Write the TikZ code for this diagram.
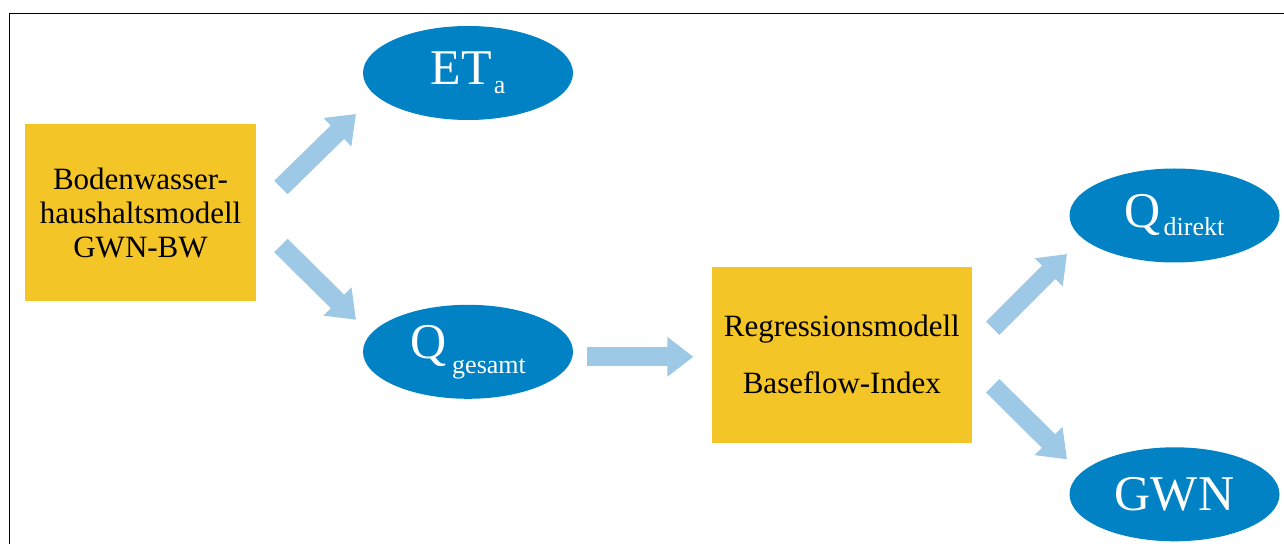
\documentclass[tikz,border=0pt]{standalone}
\usepackage{fontspec}
\setmainfont{Liberation Serif}
\usetikzlibrary{arrows.meta, positioning, shapes.geometric}

\definecolor{boxyellow}{RGB}{244,197,38}
\definecolor{ellblue}{RGB}{0,130,196}
\definecolor{flowblue}{RGB}{158,201,230}

\newcommand{\lowsub}[2]{\raisebox{-#1}{\fontsize{13}{15}\selectfont #2}}

\begin{document}
\begin{tikzpicture}[
  x=0.5pt, y=-0.5pt,
  model/.style={fill=boxyellow, align=center, inner sep=0pt, font=\fontsize{15.5}{17}\selectfont},
  result/.style={ellipse, fill=ellblue, text=white, inner sep=0pt, minimum width=105pt, minimum height=47pt, font=\fontsize{25}{28}\selectfont},
  flow/.style={draw=flowblue, line width=9.5pt, -{Triangle[width=19pt, length=13pt]}}
]
\useasboundingbox (0,0) rectangle (1284,544);
\draw[line width=0.6pt] (9.5,544) -- (9.5,13.5) -- (1284,13.5);

\node[model, minimum width=115.5pt, minimum height=88.5pt] (bwhm) at (140.5,212.5) {Bodenwasser-\\haushaltsmodell\\GWN-BW};
\node[result] (eta) at (468,73) {ET\hspace{1pt}\lowsub{4.5pt}{a}};
\node[result, below=92pt of eta] (qges) {Q\hspace{3pt}\lowsub{7.5pt}{gesamt}};
\node[model, minimum width=130pt, minimum height=88pt, font=\fontsize{15.5}{28.5}\selectfont, right=69pt of qges, yshift=-1.5pt] (bfi) {Regressionsmodell\\Baseflow-Index};
\node[result] (qdir) at (1174.5,215.5) {Q\hspace{1.5pt}\lowsub{4pt}{direkt}};
\node[result, below=92pt of qdir] (gwn) {GWN};

\draw[flow] ([shift={(24.5,-25)}]bwhm.east) -- ([shift={(-112,41)}]eta.center);
\draw[flow] ([shift={(24.5,33)}]bwhm.east) -- ([shift={(-112,-32)}]qges.center);
\draw[flow] ([shift={(14,5)}]qges.east) -- ([shift={(-18,2)}]bfi.west);
\draw[flow] ([shift={(20.5,-26.5)}]bfi.east) -- ([shift={(-107.5,38.5)}]qdir.center);
\draw[flow] ([shift={(20.5,31)}]bfi.east) -- ([shift={(-107.5,-35)}]gwn.center);
\end{tikzpicture}
\end{document}
